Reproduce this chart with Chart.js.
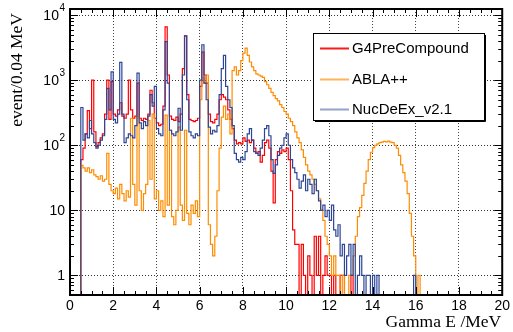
<!DOCTYPE html>
<html>
<head>
<meta charset="utf-8">
<script src="https://cdn.jsdelivr.net/npm/chart.js@4.4.1/dist/chart.umd.min.js"></script>
<style>
  html, body { margin: 0; padding: 0; background: #fff; }
  #wrap { width: 513px; height: 332px; }
</style>
</head>
<body>
<div id="wrap"><canvas id="gammaChart" width="513" height="332"></canvas></div>
<script>
// bins of 0.1 MeV, first filled bin starts at 0.5 MeV, everything else is empty
const binStart = 0.5;
const binWidth = 0.1;
const xMin = 0;
const xMax = 20;
const yMin = 0.5;
const yMax = 12400;

const seriesNames = ['G4PreCompound', 'ABLA++', 'NucDeEx_v2.1'];

// G4PreCompound, 0.5 .. 13.0 MeV
const g4PreCompound = [
  60, 90, 150, 340, 180, 1000, 160, 95, 110, 130,
  150, 300, 1000, 250, 950, 300, 280, 350, 450, 280,
  260, 300, 1000, 350, 260, 280, 900, 260, 240, 260,
  250, 300, 700, 450, 260, 220, 200, 210, 400, 6600,
  1200, 280, 250, 240, 270, 230, 300, 1500, 4800, 600,
  250, 240, 230, 240, 260, 800, 2700, 1200, 900, 300,
  230, 220, 250, 300, 500, 600, 550, 500, 350, 250,
  180, 120, 105, 110, 105, 130, 115, 120, 110, 120,
  90, 75, 80, 55, 70, 110, 120, 90, 40, 13,
  60, 80, 75, 85, 80, 90, 60, 20, 5, 3,
  3, 0, 3, 1, 0, 2, 1, 0, 4, 1,
  4, 0, 1, 2, 1, 1, 0, 1, 0, 0,
  1, 1, 0, 0, 0, 1
];

// ABLA++, 0.5 .. 16.2 MeV
const ablaPP = [
  49, 45, 40, 45, 38, 42, 35, 33, 30, 34,
  28, 30, 75, 25, 20, 18, 22, 15, 25, 18,
  14, 20, 16, 260, 25, 12, 290, 20, 10, 18,
  25, 240, 30, 300, 15, 20, 10, 14, 8, 290,
  12, 170, 8, 6, 10, 190, 12, 7, 170, 9,
  6, 12, 9, 14, 8, 500, 1100, 900, 1200, 6,
  3, 2, 4, 20, 90, 270, 400, 250, 300, 150,
  1400, 1600, 1200, 1400, 2000, 2600, 3100, 2400, 1900, 1600,
  1400, 1250, 1200, 1150, 1100, 950, 850, 750, 650, 580,
  520, 480, 420, 380, 330, 300, 260, 230, 200, 160,
  130, 110, 85, 65, 50, 40, 35, 30, 25, 20,
  15, 10, 7, 4, 3, 2, 1, 2, 1, 1,
  0, 1, 0, 0, 1, 1, 2, 4, 8, 11,
  17, 26, 40, 60, 78, 92, 100, 105, 110, 112,
  115, 113, 116, 112, 110, 100, 90, 70, 50, 38,
  28, 18, 9, 4, 2, 0, 1, 0
];

// NucDeEx_v2.1, 0.5 .. 16.0 MeV
const nucDeEx = [
  380, 120, 150, 130, 240, 150, 110, 90, 100, 120,
  140, 250, 750, 350, 1340, 250, 220, 300, 1870, 300,
  110, 130, 150, 140, 130, 200, 1280, 220, 180, 230,
  200, 280, 600, 400, 800, 180, 150, 140, 350, 3900,
  900, 170, 150, 140, 160, 370, 170, 1200, 4800, 500,
  160, 140, 130, 150, 140, 1000, 3500, 900, 500, 190,
  150, 170, 160, 200, 600, 1500, 2400, 800, 500, 380,
  200, 75, 60, 55, 65, 60, 80, 150, 180, 120,
  80, 75, 70, 90, 120, 180, 200, 140, 60, 37,
  50, 70, 90, 100, 130, 150, 100, 60, 45, 38,
  30, 22, 28, 35, 20, 30, 25, 18, 30, 20,
  14, 10, 12, 8, 10, 7, 12, 5, 4, 6,
  2, 3, 1, 2, 3, 1, 3, 0, 1, 2,
  1, 0, 1, 1, 0, 1, 0, 1, 0, 0,
  0, 0, 0, 0, 0, 0, 0, 0, 0, 0,
  0, 0, 0, 0, 1, 0
];

const xTickValues = [0, 2, 4, 6, 8, 10, 12, 14, 16, 18, 20];
const yTickValues = [1, 10, 100, 1000, 10000];
// mantissa and exponent of each y label ('' = no exponent)
const yTickBase = ['1', '10', '10', '10', '10'];
const yTickExp = ['', '', '2', '3', '4'];

const lineColors = ['#ff0000', '#ff8c00', '#2c4595'];
const legendColors = ['rgba(255,0,0,0.9)', 'rgba(255,140,0,0.65)', 'rgba(44,69,149,0.5)'];

// empty bins go below the axis so the step drops to the frame, like ROOT does on log y
const EMPTY = 0.1;

function buildPoints(values) {
  let pts = [{x: xMin, y: EMPTY}];
  for (let i = 0; i < values.length; i++) {
    pts.push({x: +(binStart + i * binWidth).toFixed(2), y: values[i] > 0 ? values[i] : EMPTY});
  }
  pts.push({x: +(binStart + values.length * binWidth).toFixed(2), y: EMPTY});
  pts.push({x: xMax, y: EMPTY});
  return pts;
}

// frame, inside ticks on all four sides, y labels with exponents, axis titles, boxed legend
const rootFrame = {
  id: 'rootFrame',
  afterDatasetsDraw(chart) {
    const ctx = chart.ctx;
    const a = chart.chartArea;
    const xs = chart.scales.x;
    const ys = chart.scales.y;
    ctx.save();
    ctx.strokeStyle = '#000';
    ctx.lineWidth = 1;
    ctx.beginPath();
    for (let e = xMin; e <= xMax; e += 0.5) {
      let px = Math.round(xs.getPixelForValue(e)) + 0.5;
      let len = (e % 2 === 0) ? 8 : 4;
      ctx.moveTo(px, a.bottom); ctx.lineTo(px, a.bottom - len);
      ctx.moveTo(px, a.top); ctx.lineTo(px, a.top + len);
    }
    for (let n = -1; n <= 4; n++) {
      for (let k = 1; k <= 9; k++) {
        let v = k * Math.pow(10, n);
        if (v < yMin || v > yMax) continue;
        let py = Math.round(ys.getPixelForValue(v)) + 0.5;
        let len = k === 1 ? 8 : 4;
        ctx.moveTo(a.left, py); ctx.lineTo(a.left + len, py);
        ctx.moveTo(a.right, py); ctx.lineTo(a.right - len, py);
      }
    }
    ctx.stroke();
    ctx.lineWidth = 2;
    ctx.strokeRect(a.left, a.top, a.right - a.left, a.bottom - a.top);

    // y tick labels, ROOT style 10^n
    ctx.fillStyle = '#000';
    ctx.textBaseline = 'middle';
    yTickValues.forEach((v, i) => {
      let py = ys.getPixelForValue(v);
      let right = a.left - 5;
      if (yTickExp[i]) {
        ctx.font = '10px "Liberation Sans", Arial, sans-serif';
        ctx.textAlign = 'right';
        ctx.fillText(yTickExp[i], right, py - 7);
        right -= ctx.measureText(yTickExp[i]).width + 0.5;
      }
      ctx.font = '14px "Liberation Sans", Arial, sans-serif';
      ctx.textAlign = 'right';
      ctx.fillText(yTickBase[i], right, py + 1);
    });
    ctx.restore();
  },
  afterDraw(chart) {
    const ctx = chart.ctx;
    const a = chart.chartArea;
    ctx.save();
    ctx.fillStyle = '#000';
    ctx.font = '17.5px "Liberation Serif", "Times New Roman", serif';
    ctx.textAlign = 'right';
    ctx.textBaseline = 'alphabetic';
    ctx.fillText('Gamma E /MeV', a.right - 1, 327);
    ctx.save();
    ctx.translate(22, a.top + 4);
    ctx.rotate(-Math.PI / 2);
    ctx.fillText('event/0.04 MeV', 0, 0);
    ctx.restore();

    // legend box
    const lx = 313, ly = 33, lw = 171, lh = 87;
    ctx.fillStyle = '#fff';
    ctx.fillRect(lx, ly, lw, lh);
    ctx.strokeStyle = '#000';
    ctx.lineWidth = 1;
    ctx.strokeRect(lx + 0.5, ly + 0.5, lw, lh);
    ctx.beginPath();
    ctx.moveTo(lx + lw + 1.5, ly + 2); ctx.lineTo(lx + lw + 1.5, ly + lh + 1.5); ctx.lineTo(lx + 2, ly + lh + 1.5);
    ctx.stroke();
    const rows = [48, 79, 109];
    ctx.font = '15px "Liberation Sans", Arial, sans-serif';
    ctx.textAlign = 'left';
    ctx.textBaseline = 'middle';
    chart.data.datasets.forEach((ds, i) => {
      ctx.strokeStyle = legendColors[i];
      ctx.lineWidth = 2;
      ctx.beginPath();
      ctx.moveTo(320, rows[i] + 0.5);
      ctx.lineTo(349, rows[i] + 0.5);
      ctx.stroke();
      ctx.fillStyle = '#000';
      ctx.fillText(ds.label, 352, rows[i] + 1);
    });
    ctx.restore();
  }
};

const seriesValues = [g4PreCompound, ablaPP, nucDeEx];
const drawOrder = [2, 1, 0]; // NucDeEx on top

const ctx = document.getElementById('gammaChart').getContext('2d');
const chart = new Chart(ctx, {
  type: 'line',
  data: {
    datasets: seriesNames.map((name, i) => ({
      label: name,
      data: buildPoints(seriesValues[i]),
      borderColor: lineColors[i],
      borderWidth: 1.2,
      pointRadius: 0,
      stepped: true,
      fill: false,
      order: drawOrder[i]
    }))
  },
  options: {
    responsive: false,
    animation: false,
    devicePixelRatio: 1,
    layout: { padding: { left: 0, top: 9, right: 10, bottom: 0 } },
    plugins: {
      legend: { display: false },
      tooltip: { enabled: false }
    },
    scales: {
      x: {
        type: 'linear',
        min: xMin,
        max: xMax,
        afterBuildTicks: (scale) => { scale.ticks = xTickValues.map(v => ({value: v})); },
        afterFit: (scale) => { scale.height = 37; },
        ticks: {
          color: '#000',
          padding: 3,
          maxRotation: 0,
          font: { family: '"Liberation Sans", Arial, sans-serif', size: 14 },
          callback: (v) => String(v)
        },
        grid: { color: '#444', drawTicks: false, lineWidth: 1 },
        border: { display: false, dash: [1, 2] }
      },
      y: {
        type: 'logarithmic',
        min: yMin,
        max: yMax,
        afterBuildTicks: (scale) => { scale.ticks = yTickValues.map(v => ({value: v})); },
        afterFit: (scale) => { scale.width = 70; },
        ticks: { display: false },
        grid: { color: '#333', drawTicks: false, lineWidth: 1 },
        border: { display: false, dash: [1, 2] }
      }
    }
  },
  plugins: [rootFrame]
});
</script>
</body>
</html>
